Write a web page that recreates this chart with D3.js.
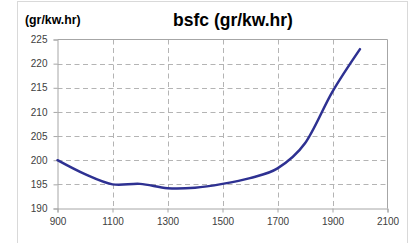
<!DOCTYPE html>
<html>
<head>
<meta charset="utf-8">
<script src="https://cdn.jsdelivr.net/npm/d3@7"></script>
<style>
  body { margin: 0; background: #fff; }
  svg { display: block; font-family: "Liberation Sans", Arial, sans-serif; }
</style>
</head>
<body>
<svg></svg>
<script>
var width = 412;
var height = 243;

// values
var rpm  = [900, 1000, 1100, 1200, 1300, 1400, 1500, 1600, 1700, 1800, 1900, 2000];
var bsfc = [200, 197.1, 195, 195.1, 194.2, 194.3, 195.1, 196.3, 198.3, 203.5, 214.2, 223];
var xTicks = [900, 1100, 1300, 1500, 1700, 1900, 2100];
var yTicks = [190, 195, 200, 205, 210, 215, 220, 225];

// plot box (note: "top" is reserved on window, so use other names)
var plotLeft = 57.5, plotRight = 387.5, plotTop = 39.5, plotBottom = 208.5;

var svg = d3.select("svg")
            .attr("width", width)
            .attr("height", height);

// chart area frame
svg.append("rect")
    .attr("x", 17.5)
    .attr("y", 1.5)
    .attr("width", 390)
    .attr("height", 260)
    .attr("fill", "#fff")
    .attr("stroke", "#d9d9d9");

var xScale = d3.scaleLinear()
               .domain([900, 2100])
               .range([plotLeft, plotRight]);

var yScale = d3.scaleLinear()
               .domain([190, 225])
               .range([plotBottom, plotTop]);

// dashed gridlines
svg.append("g")
  .selectAll("line")
  .data(xTicks.slice(1, -1))
  .enter()
  .append("line")
    .attr("x1", d => Math.round(xScale(d)) + 0.5)
    .attr("x2", d => Math.round(xScale(d)) + 0.5)
    .attr("y1", plotTop)
    .attr("y2", plotBottom)
    .attr("stroke", "#b4b4b4")
    .attr("stroke-dasharray", "5,3.5");

svg.append("g")
  .selectAll("line")
  .data(yTicks.slice(1, -1))
  .enter()
  .append("line")
    .attr("x1", plotLeft)
    .attr("x2", plotRight)
    .attr("y1", d => Math.round(yScale(d)) + 0.5)
    .attr("y2", d => Math.round(yScale(d)) + 0.5)
    .attr("stroke", "#b4b4b4")
    .attr("stroke-dasharray", "5,3.5");

// plot border top and right
svg.append("path")
    .attr("d", "M" + plotLeft + "," + plotTop + "H" + plotRight + "V" + plotBottom)
    .attr("fill", "none")
    .attr("stroke", "#a6a6a6");

// axes
var xAxis = svg.append("g")
    .attr("transform", "translate(0," + plotBottom + ")")
    .call(d3.axisBottom(xScale).tickValues(xTicks).tickFormat(d3.format("d"))
            .tickSize(4).tickPadding(5));

var yAxis = svg.append("g")
    .attr("transform", "translate(" + plotLeft + ",0)")
    .call(d3.axisLeft(yScale).tickValues(yTicks).tickFormat(d3.format("d"))
            .tickSize(4).tickPadding(6));

[xAxis, yAxis].forEach(function(ax) {
  ax.select(".domain").attr("stroke", "#a6a6a6");
  ax.selectAll(".tick line").attr("stroke", "#a6a6a6");
  ax.selectAll(".tick text")
    .attr("fill", "#404040")
    .attr("font-size", "10px")
    .attr("font-family", "Liberation Sans, Arial, sans-serif");
});

// the curve
var line = d3.line()
             .x((d, i) => xScale(rpm[i]))
             .y(d => yScale(d))
             .curve(d3.curveCatmullRom.alpha(0));

svg.append("path")
    .datum(bsfc)
    .attr("d", line)
    .attr("fill", "none")
    .attr("stroke", "#2e3192")
    .attr("stroke-width", 2.5)
    .attr("stroke-linecap", "round");

// titles
svg.append("text")
    .attr("x", 233)
    .attr("y", 26)
    .attr("font-size", "17.5px")
    .attr("font-weight", "bold")
    .attr("fill", "#000")
    .style("text-anchor", "middle")
    .text("bsfc (gr/kw.hr)");

svg.append("text")
    .attr("x", 25)
    .attr("y", 24)
    .attr("font-size", "12.3px")
    .attr("font-weight", "bold")
    .attr("fill", "#000")
    .text("(gr/kw.hr)");
</script>
</body>
</html>
